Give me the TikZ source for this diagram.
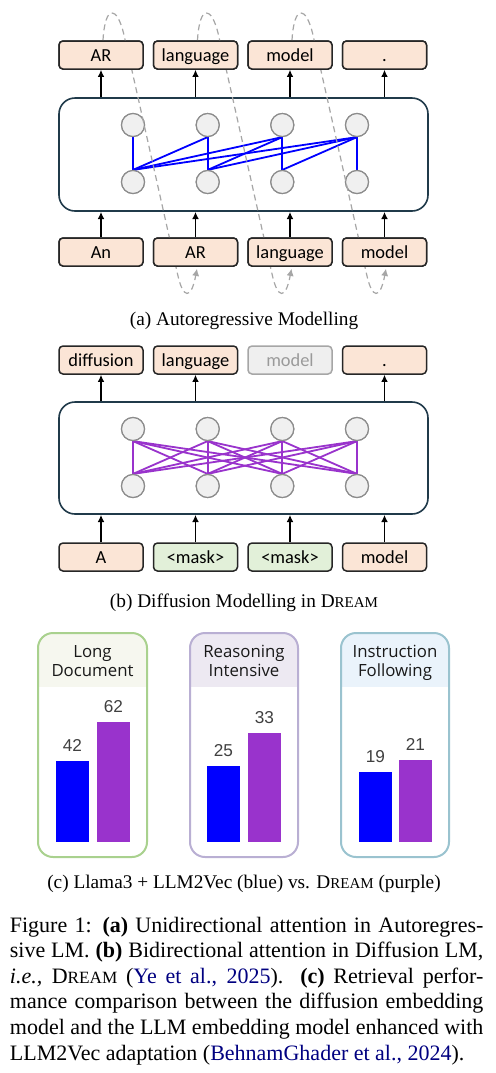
\documentclass[tikz,border=0pt]{standalone}
\usepackage{fontspec}
\setmainfont{Liberation Serif}
\newfontfamily\tokfont{Carlito}
\newfontfamily\ttlfont{Open Sans}
\newfontfamily\numfont{Liberation Sans}
\usetikzlibrary{arrows.meta}
\definecolor{peach}{HTML}{FBE5D6}
\definecolor{maskgreen}{HTML}{E2F0D9}
\definecolor{tokborder}{HTML}{262626}
\definecolor{graybox}{HTML}{EFEFEF}
\definecolor{grayboxborder}{HTML}{A6A6A6}
\definecolor{grayboxtext}{HTML}{9A9A9A}
\definecolor{mainborder}{HTML}{203A4A}
\definecolor{circfill}{HTML}{F0F0F0}
\definecolor{circborder}{HTML}{8C8C8C}
\definecolor{loopgray}{HTML}{A6A6A6}
\definecolor{lineblue}{HTML}{0000FF}
\definecolor{linepurple}{HTML}{9933CC}
\definecolor{barblue}{HTML}{0000FF}
\definecolor{barpurple}{HTML}{9933CC}
\definecolor{pgreen}{HTML}{A9D18E}
\definecolor{pgreenhead}{HTML}{F6F7EF}
\definecolor{ppurple}{HTML}{B9AFD3}
\definecolor{ppurplehead}{HTML}{EDE9F2}
\definecolor{pteal}{HTML}{9AC3CF}
\definecolor{ptealhead}{HTML}{EAF3FB}
\definecolor{numgray}{HTML}{404040}
\definecolor{citeblue}{rgb}{0,0,0.5}
\newcommand{\dreamsc}[1]{D{\fontsize{#1}{1}\selectfont REAM}}
\begin{document}
\begin{tikzpicture}[x=0.5pt,y=-0.5pt,
  tok/.style={draw=tokborder, line width=0.75pt, fill=peach, rounded corners=2pt,
    minimum width=42pt, minimum height=14pt, inner sep=0pt,
    text height=6.9pt, text depth=0pt,
    font=\tokfont\fontsize{9.2}{10}\selectfont, text=black},
  masktok/.style={tok, fill=maskgreen},
  graytok/.style={tok, fill=graybox, draw=grayboxborder, text=grayboxtext},
  circ/.style={circle, draw=circborder, fill=circfill, line width=0.6pt,
    minimum size=11.5pt, inner sep=0pt},
  mainbox/.style={draw=mainborder, line width=0.8pt, rounded corners=8pt,
    fill=white, inner sep=0pt, minimum width=184.5pt},
  arr/.style={line width=0.75pt, -{Latex[length=3.6pt,width=3.4pt]}},
  loopline/.style={draw=loopgray, line width=0.6pt, dash pattern=on 3pt off 2pt,
    -{Latex[length=3.6pt,width=3.6pt]}},
  bline/.style={line width=0.9pt, draw=lineblue},
  pline/.style={line width=0.9pt, draw=linepurple},
  panel/.style={line width=1pt, rounded corners=7.5pt},
  ttl/.style={font=\ttlfont\fontsize{8.4}{9.5}\selectfont, text=black!90, anchor=base, inner sep=0pt},
  num/.style={font=\numfont\fontsize{8.6}{9.5}\selectfont, text=numgray, anchor=base, inner sep=0pt},
  subcap/.style={font=\fontsize{9.65}{11}\selectfont, anchor=base, inner sep=0pt},
  capline/.style={font=\fontsize{11}{12.8}\selectfont, anchor=base west, inner sep=0pt}
]
\useasboundingbox (0,0) rectangle (495,1073);

% ================= (a) =================
\node[mainbox, minimum height=56.5pt] (ma) at (243.5,154.5) {};
\foreach \i/\cx in {1/133,2/207.7,3/282.3,4/357}{
  \node[circ] (at\i) at (\cx,125) {};
  \node[circ] (ab\i) at (\cx,182) {};
}
\draw[bline] (at1.south) -- (ab1.north);
\draw[bline] (at2.south) -- (ab1.north);
\draw[bline] (at2.south) -- (ab2.north);
\draw[bline] (at3.south) -- (ab1.north);
\draw[bline] (at3.south) -- (ab2.north);
\draw[bline] (at3.south) -- (ab3.north);
\draw[bline] (at4.south) -- (ab1.north);
\draw[bline] (at4.south) -- (ab2.north);
\draw[bline] (at4.south) -- (ab3.north);
\draw[bline] (at4.south) -- (ab4.north);
\foreach \i in {1,2,3,4}{
  \node[circ] at (at\i.center) {};
  \node[circ] at (ab\i.center) {};
}
\node[tok] (ao1) at (101,55) {AR};
\node[tok] (ao2) at (195.5,55) {language};
\node[tok] (ao3) at (290,55) {model};
\node[tok] (ao4) at (384.5,55) {.};
\node[tok] (ai1) at (101,252) {An};
\node[tok] (ai2) at (195.5,252) {AR};
\node[tok] (ai3) at (290,252) {language};
\node[tok] (ai4) at (384.5,252) {model};
% dashed autoregressive loops (behind token boxes)
\foreach \k/\dx in {1/0,2/94.5,3/189}{
  \pgfmathtruncatemacro{\kk}{\k+1}
  \draw[loopline] ([xshift=1pt]ao\k.north) .. controls +(2,-36) and +(-7,-30) .. (124+\dx,35)
     -- (178+\dx,276) .. controls +(5,22) and +(-6,32) .. ([xshift=0.75pt,yshift=-1pt]ai\kk.south);
}
% token boxes redrawn over the loops
\node[tok] at (ao1.center) {AR};
\node[tok] at (ao2.center) {language};
\node[tok] at (ao3.center) {model};
\node[tok] at (ao4.center) {.};
\node[tok] at (ai1.center) {An};
\node[tok] at (ai2.center) {AR};
\node[tok] at (ai3.center) {language};
\node[tok] at (ai4.center) {model};
\foreach \i in {1,2,3,4}{
  \draw[arr] (ao\i.south |- ma.north) -- (ao\i.south);
  \draw[arr] (ai\i.north) -- (ai\i.north |- ma.south);
}
\node[subcap] (capa) at (244,325) {(a) Autoregressive Modelling};

% ================= (b) =================
\node[mainbox, minimum height=56pt] (mb) at (243.5,458) {};
\foreach \i/\cx in {1/133,2/207.7,3/282.3,4/357}{
  \node[circ] (bt\i) at (\cx,429) {};
  \node[circ] (bb\i) at (\cx,486) {};
}
\foreach \i in {1,2,3,4}{
  \foreach \j in {1,2,3,4}{
    \draw[pline] (bt\i.south) -- (bb\j.north);
  }
}
\foreach \i in {1,2,3,4}{
  \node[circ] at (bt\i.center) {};
  \node[circ] at (bb\i.center) {};
}
\node[tok] (bo1) at (101,360) {diffusion};
\node[tok] (bo2) at (195.5,360) {language};
\node[graytok] (bo3) at (290,360) {model};
\node[tok] (bo4) at (384.5,360) {.};
\node[tok] (bi1) at (101,557) {A};
\node[masktok] (bi2) at (195.5,557) {<mask>};
\node[masktok] (bi3) at (290,557) {<mask>};
\node[tok] (bi4) at (384.5,557) {model};
\foreach \i in {1,2,4}{
  \draw[arr] (bo\i.south |- mb.north) -- (bo\i.south);
}
\foreach \i in {1,2,3,4}{
  \draw[arr] (bi\i.north) -- (bi\i.north |- mb.south);
}
\node[subcap] (capb) at (244,607) {(b) Diffusion Modelling in \dreamsc{7.5}};

% ================= (c) =================
\begin{scope}
  \clip[rounded corners=7.5pt] (38,633) rectangle (147,857);
  \fill[pgreenhead] (38,633) rectangle (147,687);
\end{scope}
\draw[panel, draw=pgreen] (38,633) rectangle (147,857);
\node[ttl] (t1a) at (92.5,657) {Long};
\node[ttl] (t1b) at (92.5,676) {Document};
\fill[barblue] (56,842) rectangle (89,761);
\fill[barpurple] (97,842) rectangle (130,722);
\node[num] (n1a) at (72.5,751) {42};
\node[num] (n1b) at (113.5,712) {62};
\begin{scope}
  \clip[rounded corners=7.5pt] (190,633) rectangle (298,857);
  \fill[ppurplehead] (190,633) rectangle (298,687);
\end{scope}
\draw[panel, draw=ppurple] (190,633) rectangle (298,857);
\node[ttl] (t2a) at (244,657) {Reasoning};
\node[ttl] (t2b) at (244,676) {Intensive};
\fill[barblue] (207,842) rectangle (240,766);
\fill[barpurple] (248,842) rectangle (281,733);
\node[num] (n2a) at (223.5,756) {25};
\node[num] (n2b) at (264.5,723) {33};
\begin{scope}
  \clip[rounded corners=7.5pt] (341,633) rectangle (449,857);
  \fill[ptealhead] (341,633) rectangle (449,687);
\end{scope}
\draw[panel, draw=pteal] (341,633) rectangle (449,857);
\node[ttl] (t3a) at (395,657) {Instruction};
\node[ttl] (t3b) at (395,676) {Following};
\fill[barblue] (359,842) rectangle (392,772);
\fill[barpurple] (399,842) rectangle (432,760);
\node[num] (n3a) at (375.5,762) {19};
\node[num] (n3b) at (415.5,750) {21};
\node[subcap] (capc) at (244,888) {(c) Llama3 + LLM2Vec (blue) vs. \dreamsc{7.5} (purple)};

% ================= figure caption =================
\node[capline] (l1) at (9.5,932) {\hbox to 236.75pt{Figure 1: \textbf{(a)} Unidirectional attention in Autoregres-}};
\node[capline] (l2) at (9.5,957.6) {\hbox to 236.75pt{sive LM. \textbf{(b)} Bidirectional attention in Diffusion LM,}};
\node[capline] (l3) at (9.5,983.2) {\hbox to 236.75pt{\textit{i.e.,} \dreamsc{8.6} (\textcolor{citeblue}{Ye et al., 2025}). \textbf{(c)} Retrieval perfor-}};
\node[capline] (l4) at (9.5,1008.8) {\hbox to 236.75pt{mance comparison between the diffusion embedding}};
\node[capline] (l5) at (9.5,1034.4) {\hbox to 236.75pt{model and the LLM embedding model enhanced with}};
\node[capline] (l6) at (9.5,1060) {LLM2Vec adaptation (\textcolor{citeblue}{BehnamGhader et al., 2024}).};
\end{tikzpicture}
\end{document}
